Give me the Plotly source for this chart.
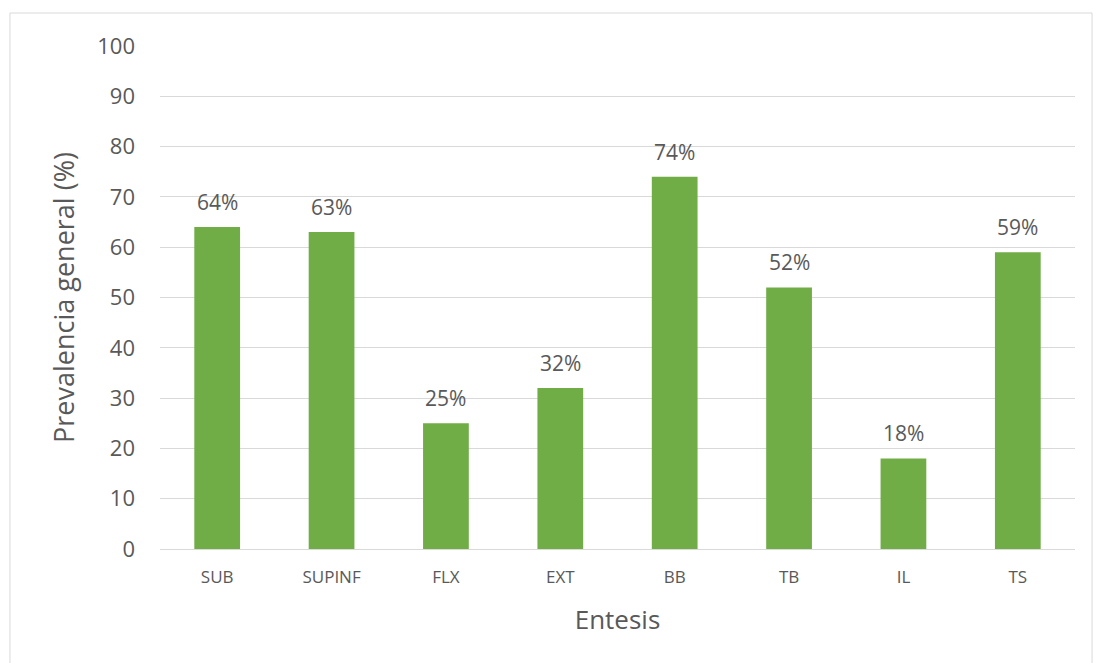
import plotly.graph_objects as go

categories = ["SUB", "SUPINF", "FLX", "EXT", "BB", "TB", "IL", "TS"]
prevalence = [64, 63, 25, 32, 74, 52, 18, 59]
y_ticks = [0, 10, 20, 30, 40, 50, 60, 70, 80, 90, 100]

font_family = "Open Sans, Noto Sans, sans-serif"
text_gray = "#595959"

fig = go.Figure(
    go.Bar(
        x=categories,
        y=prevalence,
        marker=dict(color="#70AD47", line=dict(width=0)),
        hoverinfo="x+y",
    )
)

# value labels above each bar
for cat, val in zip(categories, prevalence):
    fig.add_annotation(
        x=cat, y=val, xref="x", yref="y",
        text=f"{val}%",
        showarrow=False,
        yanchor="bottom",
        yshift=9,
        font=dict(family=font_family, size=21, color=text_gray),
    )

fig.update_layout(
    width=1097,
    height=663,
    margin=dict(l=160, r=22, t=46, b=114),
    paper_bgcolor="white",
    plot_bgcolor="white",
    bargap=0.6,
    showlegend=False,
    font=dict(family=font_family, color=text_gray),
    xaxis=dict(
        showgrid=False,
        showline=True,
        linecolor="#D9D9D9",
        linewidth=1,
        ticks="",
        tickfont=dict(size=17, color=text_gray),
        ticklabelstandoff=13,
        title=dict(text="Entesis", font=dict(size=26, color=text_gray), standoff=23),
    ),
    yaxis=dict(
        range=[0, 100],
        tickvals=y_ticks,
        showgrid=True,
        gridcolor="#D9D9D9",
        gridwidth=1,
        zeroline=False,
        showline=False,
        ticks="",
        tickfont=dict(size=22, color=text_gray),
        ticklabelstandoff=24,
        title=dict(text="Prevalencia general (%)", font=dict(size=27, color=text_gray), standoff=14),
    ),
    shapes=[
        dict(
            type="rect",
            xref="paper", yref="paper",
            x0=-0.164, x1=1.0186, y0=-0.25, y1=1.0656,
            line=dict(color="#D9D9D9", width=1),
            layer="below",
        )
    ],
)

fig.write_html("out.html")
